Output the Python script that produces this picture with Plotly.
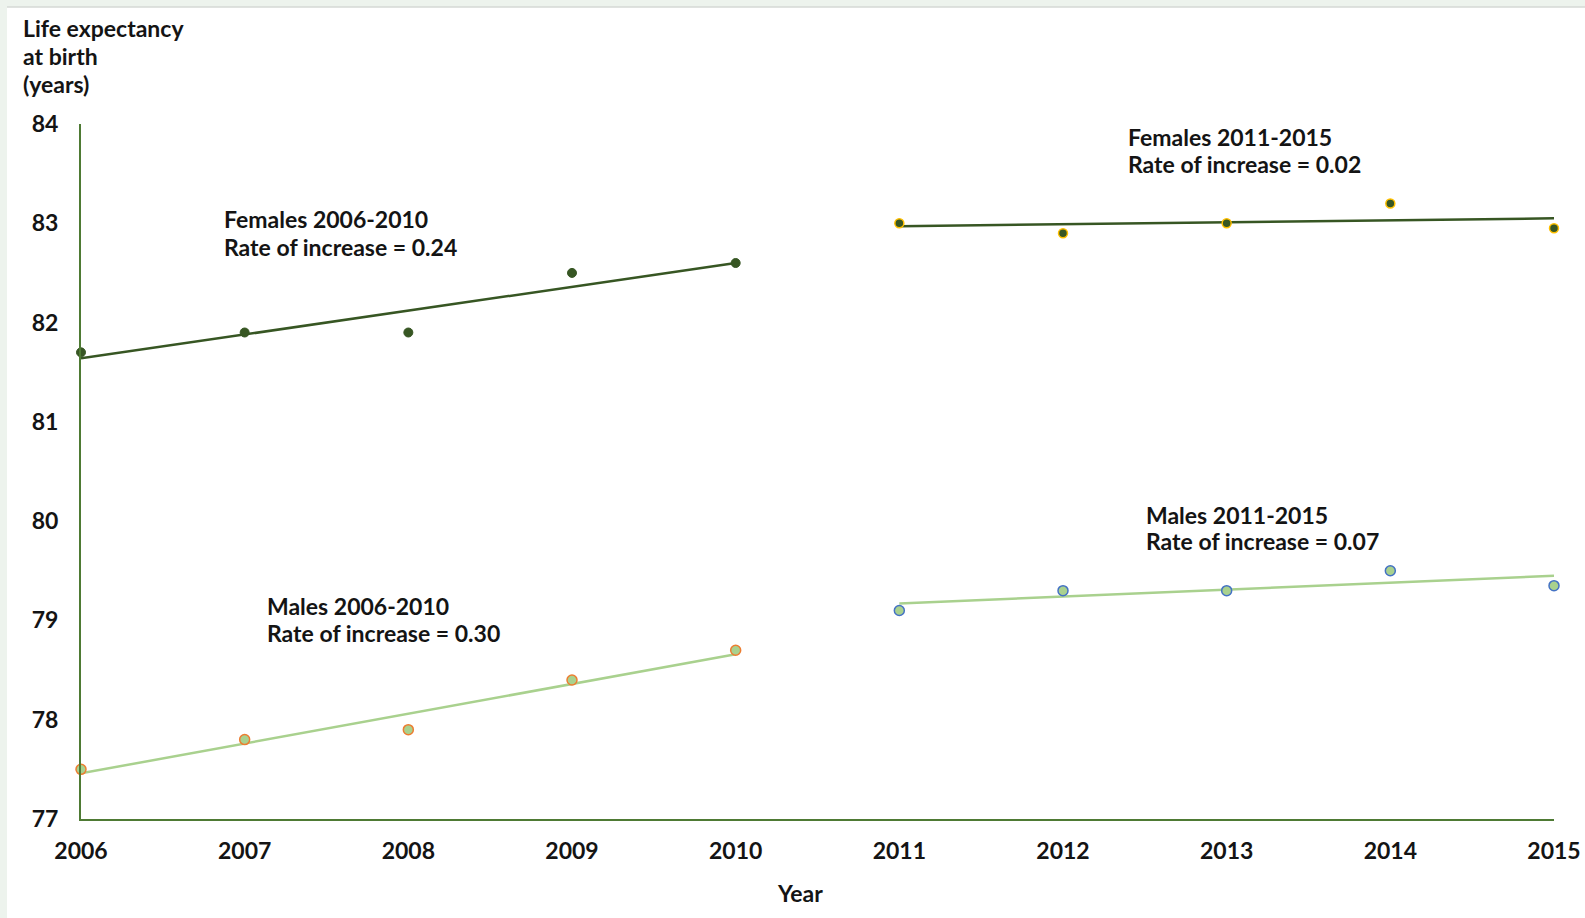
import numpy as np
import plotly.graph_objects as go

years_a = [2006, 2007, 2008, 2009, 2010]
years_b = [2011, 2012, 2013, 2014, 2015]
females_a = [81.7, 81.9, 81.9, 82.5, 82.6]
females_b = [83.0, 82.9, 83.0, 83.2, 82.95]
males_a = [77.5, 77.8, 77.9, 78.4, 78.7]
males_b = [79.1, 79.3, 79.3, 79.5, 79.35]
x_ticks = list(range(2006, 2016))
y_ticks = [77, 78, 79, 80, 81, 82, 83, 84]

labels = [
    ("Females 2006-2010", "Rate of increase = 0.24"),
    ("Females 2011-2015", "Rate of increase = 0.02"),
    ("Males 2006-2010", "Rate of increase = 0.30"),
    ("Males 2011-2015", "Rate of increase = 0.07"),
]
y_title_lines = ["Life expectancy", "at birth", "(years)"]

W, H = 1585, 918
ML, MR, MT, MB = 81, 31, 124, 99
PW, PH = W - ML - MR, H - MT - MB

def px_x(px):
    return (px - ML) / PW

def px_y(py):
    return (H - MB - py) / PH

DARK = "#375623"
AXIS = "#4E7A34"
LIGHT = "#A9D18E"
FONT = "Lato"
TXT = "#141414"

fig = go.Figure()

def trend(xs, ys):
    k, b = np.polyfit(xs, ys, 1)
    return [k * x + b for x in xs]

fig.add_trace(go.Scatter(x=years_a, y=trend(years_a, females_a), mode="lines",
                         line=dict(color=DARK, width=2.5), cliponaxis=False))
fig.add_trace(go.Scatter(x=years_b, y=trend(years_b, females_b), mode="lines",
                         line=dict(color=DARK, width=2.5), cliponaxis=False))
fig.add_trace(go.Scatter(x=years_a, y=trend(years_a, males_a), mode="lines",
                         line=dict(color=LIGHT, width=2.5), cliponaxis=False))
fig.add_trace(go.Scatter(x=years_b, y=trend(years_b, males_b), mode="lines",
                         line=dict(color=LIGHT, width=2.5), cliponaxis=False))

fig.add_trace(go.Scatter(x=years_a, y=females_a, mode="markers", cliponaxis=False,
                         marker=dict(size=9, color=DARK, line=dict(color=DARK, width=1))))
fig.add_trace(go.Scatter(x=years_b, y=females_b, mode="markers", cliponaxis=False,
                         marker=dict(size=9, color=DARK, line=dict(color="#FFC000", width=1.5))))
fig.add_trace(go.Scatter(x=years_a, y=males_a, mode="markers", cliponaxis=False,
                         marker=dict(size=10, color=LIGHT, line=dict(color="#ED7D31", width=1.5))))
fig.add_trace(go.Scatter(x=years_b, y=males_b, mode="markers", cliponaxis=False,
                         marker=dict(size=10, color=LIGHT, line=dict(color="#4472C4", width=1.5))))

anns = []
label_pos = [(222, 219, 247), (1126, 137, 164), (265, 606, 633), (1144, 515, 541)]
for (l1, l2), (lx, y1, y2) in zip(labels, label_pos):
    for txt, yy in ((l1, y1), (l2, y2)):
        anns.append(dict(x=px_x(lx), y=px_y(yy), xref="paper", yref="paper",
                         xanchor="left", yanchor="middle", align="left", showarrow=False,
                         text=txt,
                         font=dict(family=FONT, size=23, color=TXT, weight="bold")))

for txt, yy in zip(y_title_lines, [28, 56, 84]):
    anns.append(dict(x=px_x(21), y=px_y(yy), xref="paper", yref="paper",
                     xanchor="left", yanchor="middle", align="left", showarrow=False,
                     text=txt,
                     font=dict(family=FONT, size=23, color=TXT, weight="bold")))
anns.append(dict(x=px_x(800), y=px_y(893), xref="paper", yref="paper",
                 xanchor="center", yanchor="middle", showarrow=False,
                 text="Year",
                 font=dict(family=FONT, size=23, color=TXT, weight="bold")))

shapes = [
    dict(type="rect", xref="paper", yref="paper", x0=px_x(0), x1=px_x(W), y0=px_y(0), y1=px_y(7),
         fillcolor="#EDF3ED", line=dict(width=0), layer="below"),
    dict(type="rect", xref="paper", yref="paper", x0=px_x(0), x1=px_x(7), y0=px_y(0), y1=px_y(H),
         fillcolor="#EDF3ED", line=dict(width=0), layer="below"),
    dict(type="line", xref="paper", yref="paper", x0=px_x(7), x1=px_x(W), y0=px_y(7), y1=px_y(7),
         line=dict(color="#D4D8D4", width=1.5), layer="below"),
]

fig.update_layout(
    width=W, height=H,
    margin=dict(l=ML, r=MR, t=MT, b=MB, autoexpand=False),
    paper_bgcolor="white", plot_bgcolor="rgba(0,0,0,0)",
    showlegend=False,
    annotations=anns, shapes=shapes,
    xaxis=dict(range=[2006, 2015], tickvals=x_ticks, ticktext=[str(v) for v in x_ticks],
               showgrid=False, zeroline=False, showline=True, linecolor=AXIS, linewidth=2,
               ticks="", ticklabelstandoff=10, automargin=False, ticklabeloverflow="allow",
               tickfont=dict(family=FONT, size=23, color=TXT, weight="bold")),
    yaxis=dict(range=[77, 84], tickvals=y_ticks, ticktext=[str(v) for v in y_ticks],
               showgrid=False, zeroline=False, showline=True, linecolor=AXIS, linewidth=2,
               ticks="", ticklabelstandoff=16, automargin=False, ticklabeloverflow="allow",
               tickfont=dict(family=FONT, size=23, color=TXT, weight="bold")),
)

fig.write_html("out.html", config={"displayModeBar": False},
               post_script="document.body.style.margin='0';document.body.style.overflow='hidden';")
